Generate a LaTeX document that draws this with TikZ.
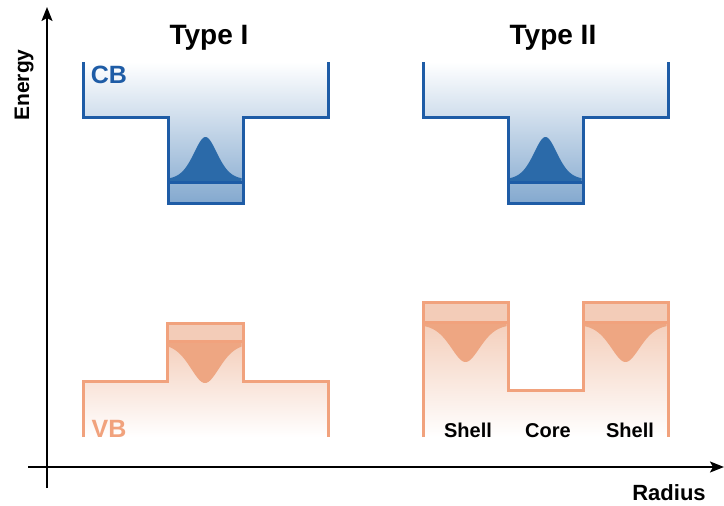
\documentclass[tikz,border=0pt]{standalone}
\usepackage{fontspec}
\setmainfont{Liberation Sans}
\usetikzlibrary{arrows.meta}
\definecolor{cbline}{HTML}{1E5CA6}
\definecolor{cbgauss}{HTML}{2B6AA9}
\definecolor{cbgrad}{HTML}{84A9CF}
\definecolor{vbline}{HTML}{F1A27D}
\definecolor{vbgauss}{HTML}{EEA682}
\definecolor{vbgrad}{HTML}{F2C6AF}
\definecolor{vbbox}{HTML}{F3CCB8}
\begin{document}
\begin{tikzpicture}[x=1pt,y=-1pt,every node/.style={font=\bfseries,anchor=base,inner sep=0pt},
	axis/.style={line width=2pt,-{Stealth[length=14pt,width=11pt,inset=3pt]}},
	cbband/.style={draw=cbline,line width=3pt},
	vbband/.style={draw=vbline,line width=3pt},
	cbshade/.style={top color=white,middle color=cbgrad!82,bottom color=cbgrad},
	vbshade/.style={top color=vbgrad,bottom color=white}]
	\useasboundingbox (0,0) rectangle (724,506);
	
	% axes
	\coordinate (eorig) at (47,488);
	\coordinate (etop) at (47,7);
	\coordinate (rorig) at (28,467);
	\coordinate (rend) at (724,467);
	\draw[axis] (eorig) -- (etop);
	\draw[axis] (rorig) -- (rend);
	\node (energy) at (29,85) [rotate=90,font=\bfseries\fontsize{21}{21}\selectfont] {Energy};
	\node (radius) at (669,500) [font=\bfseries\fontsize{22}{22}\selectfont] {Radius};
	
	% titles
	\node (type1) at (209,44) [font=\bfseries\fontsize{28}{28}\selectfont] {Type I};
	\node (type2) at (553,44) [font=\bfseries\fontsize{28}{28}\selectfont] {Type II};
	
	% CB, type I
	\shade[cbshade] (83,62) -- (83,117) -- (168,117) -- (168,203) -- (243,203) -- (243,117) -- (328,117) -- (328,62) -- cycle;
	\fill[cbgauss] (169.5,181) -- plot[domain=169.5:241.5,samples=80] (\x,{181-44*(0.6*exp(-0.693*((\x-205.5)/14.5)^2)+0.4/(1+((\x-205.5)/14.5)^2))}) -- (241.5,181) -- cycle;
	\draw[cbband] (168,182) -- (243,182);
	\draw[cbband] (83,62) -- (83,117) -- (168,117) -- (168,203) -- (243,203) -- (243,117) -- (328,117) -- (328,62);
	\node (cb) at (109,83) [text=cbline,font=\bfseries\fontsize{25}{25}\selectfont] {CB};
	
	% CB, type II
	\begin{scope}[xshift=340]
	\shade[cbshade] (83,62) -- (83,117) -- (168,117) -- (168,203) -- (243,203) -- (243,117) -- (328,117) -- (328,62) -- cycle;
	\fill[cbgauss] (169.5,181) -- plot[domain=169.5:241.5,samples=80] (\x,{181-44*(0.6*exp(-0.693*((\x-205.5)/14.5)^2)+0.4/(1+((\x-205.5)/14.5)^2))}) -- (241.5,181) -- cycle;
	\draw[cbband] (168,182) -- (243,182);
	\draw[cbband] (83,62) -- (83,117) -- (168,117) -- (168,203) -- (243,203) -- (243,117) -- (328,117) -- (328,62);
	\end{scope}
	
	% VB, type I
	\shade[vbshade] (83,437) -- (83,381) -- (167,381) -- (167,323) -- (243,323) -- (243,381) -- (328,381) -- (328,437) -- cycle;
	\fill[vbbox] (167,323) rectangle (243,341);
	\fill[vbgauss] (168.5,342) -- plot[domain=168.5:241.5,samples=80] (\x,{342+41*(0.6*exp(-0.693*((\x-205)/18)^2)+0.4/(1+((\x-205)/18)^2))}) -- (241.5,342) -- cycle;
	\draw[vbband] (167,341) -- (243,341);
	\draw[vbband] (83,437) -- (83,381) -- (167,381) -- (167,323) -- (243,323) -- (243,381) -- (328,381) -- (328,437);
	\node (vb) at (109,437) [text=vbline,font=\bfseries\fontsize{25}{25}\selectfont] {VB};
	
	% VB, type II
	\shade[vbshade] (423,437) -- (423,302) -- (508,302) -- (508,390) -- (583,390) -- (583,302) -- (668,302) -- (668,437) -- cycle;
	\fill[vbbox] (423,302) rectangle (508,322);
	\fill[vbbox] (583,302) rectangle (668,322);
	\fill[vbgauss] (424.5,323) -- plot[domain=424.5:506.5,samples=80] (\x,{323+39*(0.6*exp(-0.693*((\x-465.5)/18)^2)+0.4/(1+((\x-465.5)/18)^2))}) -- (506.5,323) -- cycle;
	\fill[vbgauss] (584.5,323) -- plot[domain=584.5:666.5,samples=80] (\x,{323+39*(0.6*exp(-0.693*((\x-625.5)/18)^2)+0.4/(1+((\x-625.5)/18)^2))}) -- (666.5,323) -- cycle;
	\draw[vbband] (423,322) -- (508,322);
	\draw[vbband] (583,322) -- (668,322);
	\draw[vbband] (423,437) -- (423,302) -- (508,302) -- (508,390) -- (583,390) -- (583,302) -- (668,302) -- (668,437);
	\node (shell1) at (468,437) [font=\bfseries\fontsize{20}{20}\selectfont] {Shell};
	\node (core) at (548,437) [font=\bfseries\fontsize{20}{20}\selectfont] {Core};
	\node (shell2) at (630,437) [font=\bfseries\fontsize{20}{20}\selectfont] {Shell};
\end{tikzpicture}
\end{document}
